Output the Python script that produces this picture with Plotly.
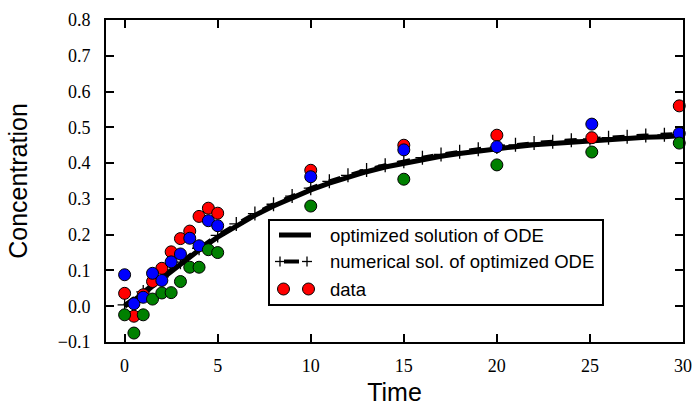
import plotly.graph_objects as go

# ---- data ----
time_data = [0, 0.5, 1, 1.5, 2, 2.5, 3, 3.5, 4, 4.5, 5, 10, 15, 20, 25.1, 29.8]
red_vals = [0.036, -0.028, 0.032, 0.069, 0.106, 0.152, 0.189, 0.210, 0.251, 0.274, 0.260,
            0.380, 0.450, 0.478, 0.471, 0.560]
blue_vals = [0.088, 0.007, 0.025, 0.092, 0.072, 0.124, 0.146, 0.190, 0.169, 0.239, 0.225,
             0.362, 0.437, 0.446, 0.509, 0.483]
green_vals = [-0.024, -0.075, -0.024, 0.020, 0.037, 0.038, 0.069, 0.109, 0.109, 0.158, 0.150,
              0.280, 0.355, 0.395, 0.431, 0.456]

time_curve = list(range(0, 31))
opt_curve = [0.000, 0.035, 0.077, 0.118, 0.157, 0.193, 0.225, 0.254, 0.280, 0.303, 0.325,
             0.344, 0.361, 0.376, 0.389, 0.400, 0.410, 0.419, 0.427, 0.434, 0.440,
             0.446, 0.451, 0.455, 0.459, 0.463, 0.466, 0.469, 0.472, 0.474, 0.477]
num_curve = [0.004, 0.040, 0.082, 0.123, 0.162, 0.198, 0.230, 0.259, 0.285, 0.308, 0.330,
             0.349, 0.366, 0.381, 0.394, 0.405, 0.415, 0.424, 0.432, 0.439, 0.445,
             0.451, 0.456, 0.460, 0.464, 0.468, 0.471, 0.474, 0.477, 0.479, 0.482]

x_ticks = [0, 5, 10, 15, 20, 25, 30]
y_ticks = [-0.1, 0.0, 0.1, 0.2, 0.3, 0.4, 0.5, 0.6, 0.7, 0.8]

legend_labels = ["optimized solution of ODE", "numerical sol. of optimized ODE", "data"]

# ---- figure ----
W, H = 695, 406
L, R, T, B = 106, 12, 20, 64
pw, ph = W - L - R, H - T - B

fig = go.Figure()
fig.add_trace(go.Scatter(x=time_curve, y=opt_curve, mode="lines",
                         line=dict(color="black", width=5), showlegend=False))
fig.add_trace(go.Scatter(x=time_curve, y=num_curve, mode="lines+markers",
                         line=dict(color="black", width=4, dash="dash"),
                         marker=dict(symbol="cross-thin", size=10,
                                     line=dict(color="black", width=1.3)),
                         showlegend=False))
for vals, col in [(red_vals, "#ff0000"), (blue_vals, "#0000ff"), (green_vals, "#008000")]:
    fig.add_trace(go.Scatter(x=time_data, y=vals, mode="markers", cliponaxis=False,
                             marker=dict(size=12, color=col,
                                         line=dict(color="black", width=1)),
                             showlegend=False))

def px2paper(px, py):
    return (px - L) / pw, (H - B - py) / ph

shapes = []
# legend box
x0, y0 = px2paper(269, 305)
x1, y1 = px2paper(603, 220)
shapes.append(dict(type="rect", xref="paper", yref="paper", x0=x0, y0=y0, x1=x1, y1=y1,
                   line=dict(color="black", width=2), fillcolor="white", layer="above"))
row_y = [235, 261.5, 289]
# row 1: solid line
a, yy = px2paper(279, row_y[0])
b, _ = px2paper(311, row_y[0])
shapes.append(dict(type="line", xref="paper", yref="paper", x0=a, x1=b, y0=yy, y1=yy,
                   line=dict(color="black", width=5), layer="above"))
# row 2: dash with plus markers
a, yy = px2paper(284, row_y[1])
b, _ = px2paper(299, row_y[1])
shapes.append(dict(type="line", xref="paper", yref="paper", x0=a, x1=b, y0=yy, y1=yy,
                   line=dict(color="black", width=4), layer="above"))
for cx in [280, 307]:
    ax, ay = px2paper(cx, row_y[1])
    shapes.append(dict(type="line", xref="paper", yref="paper", xsizemode="pixel",
                       ysizemode="pixel", xanchor=ax, yanchor=ay, x0=-5, x1=5, y0=0, y1=0,
                       line=dict(color="black", width=1.3), layer="above"))
    shapes.append(dict(type="line", xref="paper", yref="paper", xsizemode="pixel",
                       ysizemode="pixel", xanchor=ax, yanchor=ay, x0=0, x1=0, y0=-5, y1=5,
                       line=dict(color="black", width=1.3), layer="above"))
# row 3: two red circles
for cx in [283.5, 308.5]:
    ax, ay = px2paper(cx, row_y[2])
    shapes.append(dict(type="circle", xref="paper", yref="paper", xsizemode="pixel",
                       ysizemode="pixel", xanchor=ax, yanchor=ay, x0=-6, x1=6, y0=-6, y1=6,
                       fillcolor="#ff0000", line=dict(color="black", width=1), layer="above"))

annotations = []
for lab, ry in zip(legend_labels, row_y):
    ax, ay = px2paper(328, ry)
    annotations.append(dict(text=lab, xref="paper", yref="paper", x=ax, y=ay,
                            xanchor="left", yanchor="middle", showarrow=False,
                            font=dict(family="Liberation Sans, Arial", size=18.5, color="black")))

axis_common = dict(showline=True, linecolor="black", linewidth=2, mirror="allticks",
                   ticks="inside", ticklen=8, tickwidth=1.5, tickcolor="black",
                   showgrid=False, zeroline=False, automargin=False,
                   tickfont=dict(family="Liberation Serif, DejaVu Serif", size=18, color="black"))

fig.update_layout(
    width=W, height=H,
    margin=dict(l=L, r=R, t=T, b=B),
    paper_bgcolor="white", plot_bgcolor="white",
    showlegend=False,
    shapes=shapes, annotations=annotations,
    xaxis=dict(range=[-1, 30], tickvals=x_ticks, ticklabelstandoff=6,
               title=dict(text="Time", standoff=11,
                          font=dict(family="Liberation Sans, Arial", size=25, color="black")),
               **axis_common),
    yaxis=dict(range=[-0.1, 0.8], tickvals=y_ticks, tickformat=".1f", ticklabelstandoff=10,
               title=dict(text="Concentration", standoff=23,
                          font=dict(family="Liberation Sans, Arial", size=25, color="black")),
               **axis_common),
)

fig.write_html("out.html", config={"displayModeBar": False},
               post_script="document.body.style.margin='0';document.body.style.padding='0';")
